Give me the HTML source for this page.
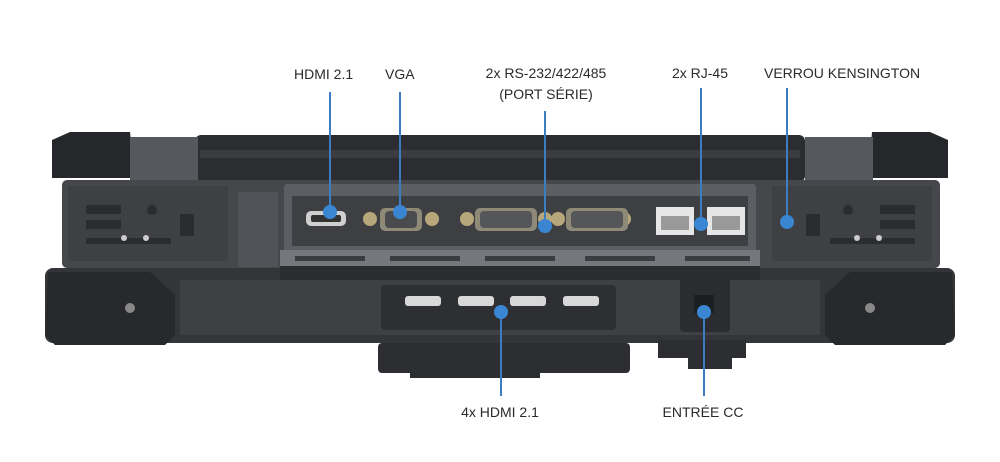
<!DOCTYPE html>
<html><head><meta charset="utf-8"><style>
html,body{margin:0;padding:0;background:#fff;width:1000px;height:462px;overflow:hidden}
svg{display:block}
text{font-family:"Liberation Sans",sans-serif;font-size:14px;fill:#2a2a2a}
</style></head><body>
<svg width="1000" height="462" viewBox="0 0 1000 462">
<rect x="195" y="135" width="610" height="47" rx="6" fill="#2b2d30"/>
<rect x="200" y="150" width="600" height="8" fill="#3a3c40"/>
<path d="M52 140 L70 132 L130 132 L135 178 L52 178 Z" fill="#25272a"/>
<rect x="130" y="137" width="68" height="45" fill="#55585c"/>
<path d="M948 140 L930 132 L872 132 L868 178 L948 178 Z" fill="#25272a"/>
<rect x="805" y="137" width="68" height="45" fill="#55585c"/>
<rect x="62" y="180" width="878" height="88" rx="5" fill="#45474b"/>
<rect x="68" y="186" width="160" height="75" fill="#3e4044"/>
<rect x="772" y="186" width="160" height="75" fill="#3e4044"/>
<rect x="238" y="192" width="40" height="75" fill="#505357"/>
<g fill="#2a2c2f">
<rect x="86" y="205" width="35" height="9"/><rect x="86" y="220" width="35" height="9"/><rect x="86" y="238" width="85" height="6"/>
<rect x="180" y="214" width="14" height="22"/>
<rect x="880" y="205" width="35" height="9"/><rect x="880" y="220" width="35" height="9"/><rect x="830" y="238" width="85" height="6"/>
<rect x="806" y="214" width="14" height="22"/>
</g>
<circle cx="152" cy="210" r="5" fill="#2a2c2f"/><circle cx="848" cy="210" r="5" fill="#2a2c2f"/>
<circle cx="124" cy="238" r="3" fill="#ccc"/><circle cx="146" cy="238" r="3" fill="#ccc"/>
<circle cx="857" cy="238" r="3" fill="#ccc"/><circle cx="879" cy="238" r="3" fill="#ccc"/>
<rect x="284" y="184" width="472" height="84" rx="3" fill="#5b5e62"/>
<rect x="292" y="196" width="456" height="50" fill="#3d3f43"/>
<rect x="280" y="250" width="480" height="20" fill="#74777b"/>
<g fill="#3a3c40"><rect x="295" y="256" width="70" height="5"/><rect x="390" y="256" width="70" height="5"/><rect x="485" y="256" width="70" height="5"/><rect x="585" y="256" width="70" height="5"/><rect x="685" y="256" width="65" height="5"/></g>
<rect x="306" y="211" width="40" height="15" rx="5" fill="#cfcfcf"/><rect x="311" y="215" width="30" height="7" rx="2" fill="#333"/>
<g fill="#b8a77a"><circle cx="370" cy="219" r="7"/><circle cx="432" cy="219" r="7"/><circle cx="467" cy="219" r="7"/><circle cx="545" cy="219" r="7"/><circle cx="558" cy="219" r="7"/><circle cx="624" cy="219" r="7"/></g>
<rect x="380" y="208" width="42" height="23" rx="5" fill="#8f8a78"/><rect x="385" y="211" width="32" height="17" rx="4" fill="#4a4b4e"/>
<rect x="475" y="208" width="62" height="23" rx="5" fill="#8f8a78"/><rect x="480" y="211" width="52" height="17" rx="4" fill="#55565a"/>
<rect x="566" y="208" width="62" height="23" rx="5" fill="#8f8a78"/><rect x="571" y="211" width="52" height="17" rx="4" fill="#55565a"/>
<rect x="656" y="207" width="38" height="28" fill="#e6e6e6"/><rect x="661" y="216" width="28" height="14" fill="#999"/>
<rect x="707" y="207" width="38" height="28" fill="#e6e6e6"/><rect x="712" y="216" width="28" height="14" fill="#999"/>
<rect x="775" y="272" width="50" height="12" fill="#c8b98a"/>
<rect x="45" y="268" width="910" height="75" rx="8" fill="#333538"/>
<rect x="180" y="280" width="640" height="55" fill="#3e4044"/>
<path d="M48 272 L150 272 L175 295 L175 335 L165 345 L55 345 L45 335 Z" fill="#27292c"/>
<path d="M952 272 L850 272 L825 295 L825 335 L835 345 L945 345 L955 335 Z" fill="#27292c"/>
<circle cx="130" cy="308" r="5" fill="#888"/><circle cx="870" cy="308" r="5" fill="#888"/>
<rect x="280" y="266" width="480" height="14" fill="#2a2c2f"/>
<rect x="381" y="285" width="235" height="45" rx="4" fill="#2d2f32"/>
<g fill="#d8d8d8"><rect x="405" y="296" width="36" height="10" rx="3"/><rect x="458" y="296" width="36" height="10" rx="3"/><rect x="510" y="296" width="36" height="10" rx="3"/><rect x="563" y="296" width="36" height="10" rx="3"/></g>
<rect x="680" y="278" width="50" height="54" rx="4" fill="#2a2c2f"/>
<rect x="694" y="295" width="20" height="18" fill="#1c1d1f"/>
<rect x="378" y="343" width="252" height="30" rx="4" fill="#2c2e31"/>
<rect x="410" y="370" width="130" height="8" fill="#2c2e31"/>
<rect x="658" y="340" width="88" height="18" fill="#2c2e31"/>
<rect x="688" y="355" width="44" height="14" fill="#2c2e31"/>
<g stroke="#3b7cc2" stroke-width="2">
<line x1="330" y1="92" x2="330" y2="212"/>
<line x1="400" y1="92" x2="400" y2="212"/>
<line x1="545" y1="111" x2="545" y2="226"/>
<line x1="701" y1="88" x2="701" y2="224"/>
<line x1="787" y1="88" x2="787" y2="222"/>
<line x1="501" y1="312" x2="501" y2="396"/>
<line x1="704" y1="312" x2="704" y2="396"/>
</g>
<g fill="#3b86d2">
<circle cx="330" cy="212" r="7"/><circle cx="400" cy="212" r="7"/><circle cx="545" cy="226" r="7"/>
<circle cx="701" cy="224" r="7"/><circle cx="787" cy="222" r="7"/><circle cx="501" cy="312" r="7"/><circle cx="704" cy="312" r="7"/>
</g>
<text x="294" y="79">HDMI 2.1</text>
<text x="385" y="79">VGA</text>
<text x="546" y="78" text-anchor="middle">2x RS-232/422/485</text>
<text x="546" y="99" text-anchor="middle">(PORT SÉRIE)</text>
<text x="700" y="78" text-anchor="middle">2x RJ-45</text>
<text x="764" y="78">VERROU KENSINGTON</text>
<text x="500" y="417" text-anchor="middle">4x HDMI 2.1</text>
<text x="703" y="417" text-anchor="middle">ENTRÉE CC</text>
</svg>
</body></html>
